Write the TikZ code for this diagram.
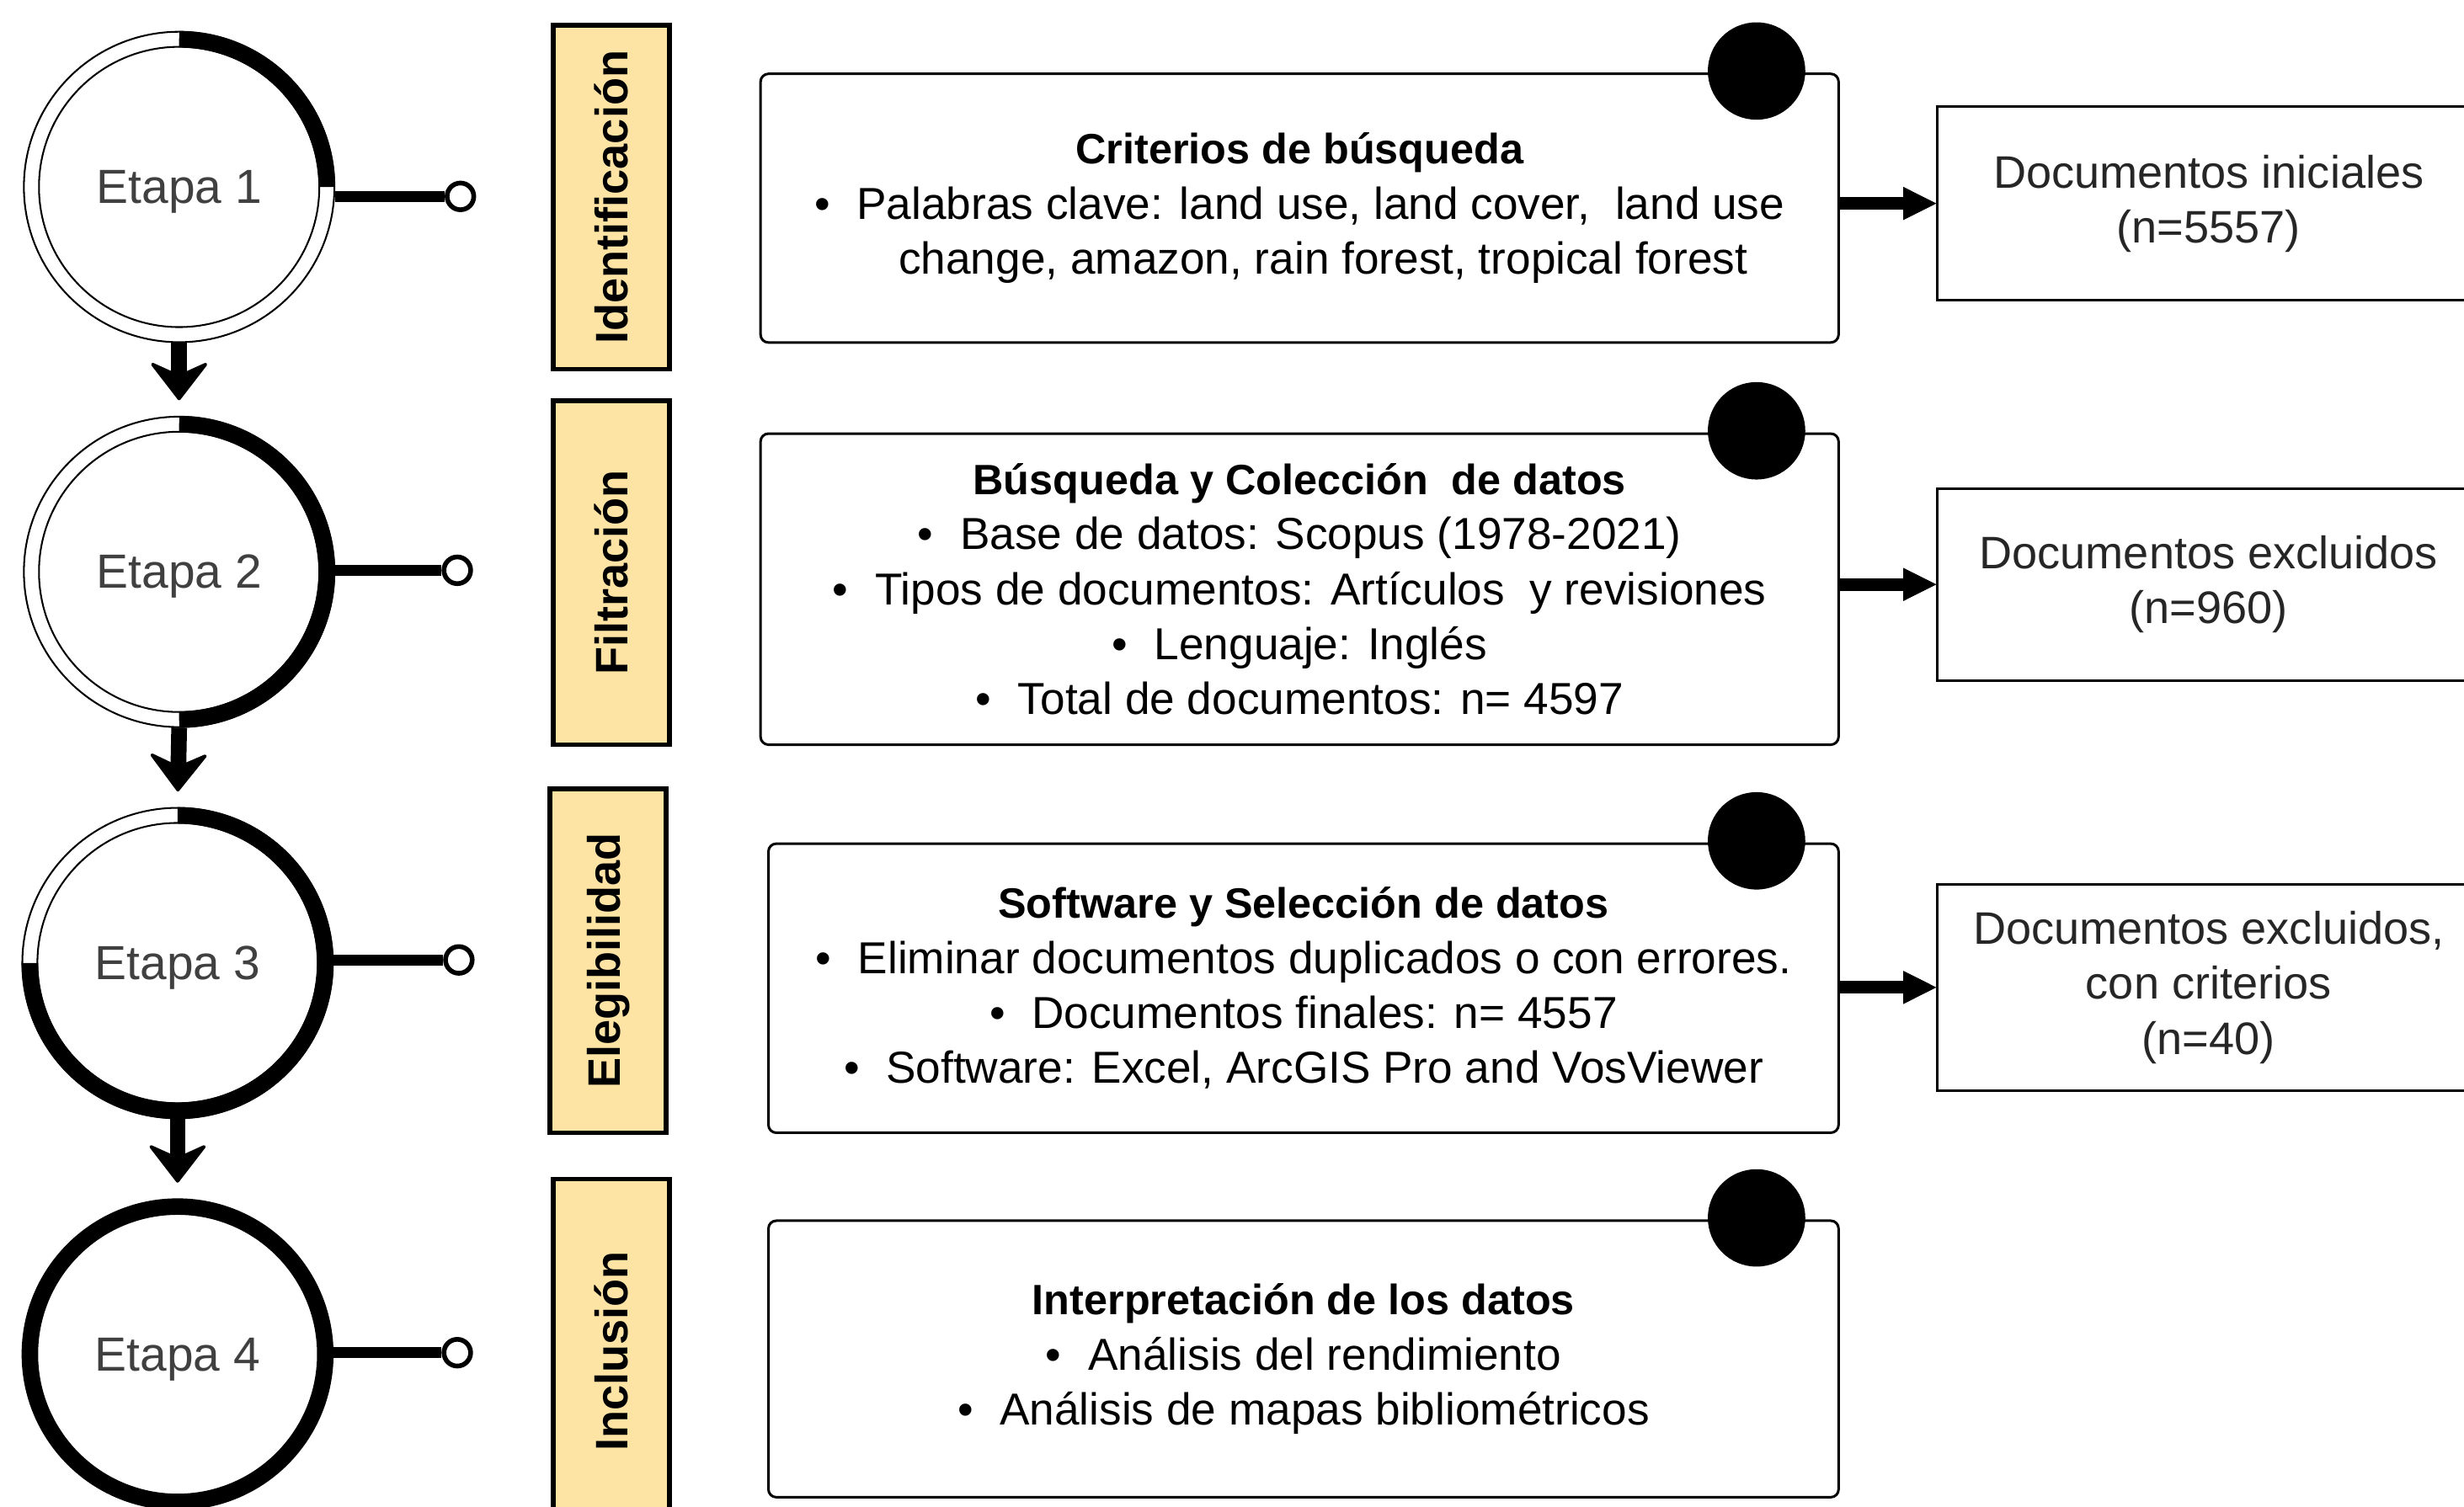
\documentclass[tikz,border=0pt]{standalone}
\usepackage{fontspec}
\setmainfont{Liberation Sans}
\usetikzlibrary{arrows.meta}
\definecolor{labfill}{RGB}{253,228,165}
\newcommand\bul{\textbullet\hspace{17pt}}
\begin{document}
\begin{tikzpicture}[x=1pt,y=-1pt,
  stage/.style={circle, minimum size=198pt, inner sep=0pt, text height=22pt, text depth=1pt, font=\fontsize{30.5}{36}\selectfont, text=black!75},
  thinring/.style={line width=1.1pt},
  bandring/.style={line width=10.5pt},
  hook/.style={circle, draw, line width=3pt, fill=white, minimum size=17pt, inner sep=0pt},
  hookline/.style={line width=7pt},
  downarrow/.style={line width=10pt, -{Stealth[length=26pt,width=40pt,inset=9pt,round,line width=2pt]}, shorten >=10pt},
  labbox/.style={draw, line width=3pt, fill=labfill, minimum width=219pt, minimum height=74pt, inner sep=0pt, rotate=90, font=\fontsize{29}{34}\selectfont\bfseries},
  mainbox/.style={draw, line width=1.6pt, rounded corners=5pt, inner sep=0pt, align=center, font=\fontsize{28.5}{35}\selectfont},
  dot/.style={circle, fill=black, minimum size=62pt, inner sep=0pt},
  sidebox/.style={draw, line width=1.6pt, inner sep=0pt, align=center, font=\fontsize{29}{35}\selectfont, text=black!85},
  sidearrow/.style={line width=8pt, -{Triangle[length=21pt,width=21pt,line width=0.5pt]}},
]
\useasboundingbox (0,0) rectangle (1568,959);
\clip (0,0) rectangle (1568,959);

% stage circles
\node[stage] (C1) at (114,119) {Etapa 1};
\node[stage] (C2) at (114,364) {Etapa 2};
\node[stage] (C3) at (113,613) {Etapa 3};
\node[stage] (C4) at (113,862) {Etapa 4};

\foreach \c/\e in {C1/0, C2/90, C3/180} {
  \draw[thinring] (\c.center) circle[radius=98.8] (\c.center) circle[radius=89.2];
  \draw[bandring] (\c.center) ++(0,-94) arc[start angle=-90, end angle=\e, radius=94];
}
\draw[bandring] (C4.center) circle[radius=94];

% down arrows
\draw[downarrow] (C1.south) -- (C2.north);
\draw[downarrow] (C2.south) -- (C3.north);
\draw[downarrow] (C3.south) -- (C4.north);

% hooks
\node[hook] (O1) at (293,125) {};
\node[hook] (O2) at (291,363) {};
\node[hook] (O3) at (292,611) {};
\node[hook] (O4) at (291,861) {};
\draw[hookline] (C1.east |- O1) -- (O1);
\draw[hookline] (C2.east |- O2) -- (O2);
\draw[hookline] (C3.east |- O3) -- (O3);
\draw[hookline] (C4.east |- O4) -- (O4);

% phase labels
\node[labbox] (L1) at (389,125.5) {Identificación};
\node[labbox] (L2) at (389,364.5) {Filtración};
\node[labbox] (L3) at (387,611.5) {Elegibilidad};
\node[labbox] (L4) at (389,860) {Inclusión};

% main boxes
\node[mainbox, minimum width=686pt, minimum height=171pt] (B1) at (827,132.5)
  {{\bfseries\fontsize{27}{35}\selectfont Criterios de búsqueda}\\
   \bul Palabras clave: land use, land cover,\ \ land use\\
   \hspace*{30pt}change, amazon, rain forest, tropical forest};
\node[mainbox, minimum width=686pt, minimum height=198pt] (B2) at (827,375)
  {{\bfseries\fontsize{27}{35}\selectfont Búsqueda y Colección\ \ de datos}\\
   \bul Base de datos: Scopus (1978-2021)\\
   \bul Tipos de documentos: Artículos\ \ y revisiones\\
   \bul Lenguaje: Inglés\\
   \bul Total de documentos: n= 4597};
\node[mainbox, minimum width=681pt, minimum height=184pt] (B3) at (829.5,629)
  {{\bfseries\fontsize{27}{35}\selectfont Software y Selección de datos}\\
   \bul Eliminar documentos duplicados o con errores.\\
   \bul Documentos finales: n= 4557\\
   \bul Software: Excel, ArcGIS Pro and VosViewer};
\node[mainbox, minimum width=681pt, minimum height=176pt] (B4) at (829.5,865)
  {{\bfseries\fontsize{27}{35}\selectfont Interpretación de los datos}\\
   \bul Análisis del rendimiento\\
   \bul Análisis de mapas bibliométricos};

% dots
\node[dot] (D1) at ([xshift=-53pt,yshift=1pt]B1.north east) {};
\node[dot] (D2) at ([xshift=-53pt,yshift=1pt]B2.north east) {};
\node[dot] (D3) at ([xshift=-53pt,yshift=1pt]B3.north east) {};
\node[dot] (D4) at ([xshift=-53pt,yshift=1pt]B4.north east) {};

% side boxes
\node[sidebox, minimum width=345pt, minimum height=123pt] (R1) at (1405.5,129.5)
  {Documentos iniciales\\(n=5557)};
\node[sidebox, minimum width=345pt, minimum height=122pt] (R2) at (1405.5,372)
  {Documentos excluidos\\(n=960)};
\node[sidebox, minimum width=345pt, minimum height=131pt] (R3) at (1405.5,628.5)
  {Documentos excluidos,\\con criterios\\(n=40)};

\draw[sidearrow] (B1.east |- R1.west) -- (R1.west);
\draw[sidearrow] (B2.east |- R2.west) -- (R2.west);
\draw[sidearrow] (B3.east |- R3.west) -- (R3.west);
\end{tikzpicture}
\end{document}
